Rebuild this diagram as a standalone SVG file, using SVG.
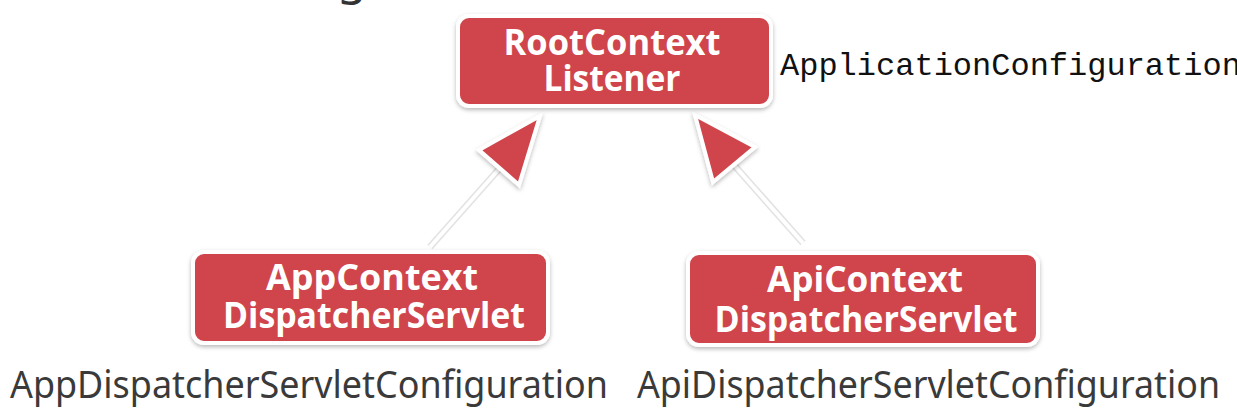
<svg xmlns="http://www.w3.org/2000/svg" width="1237" height="410" viewBox="0 0 1237 410">
  <defs>
    <filter id="sh" x="-10%" y="-20%" width="120%" height="150%">
      <feDropShadow dx="0" dy="2" stdDeviation="2" flood-color="#000" flood-opacity="0.28"/>
    </filter>
    <style>
      .box { fill: #d0454c; stroke: #ffffff; stroke-width: 4; filter: url(#sh); }
      .bt { font-family: "Open Sans", "Noto Sans", sans-serif; font-weight: 700; font-size: 35px; fill: #ffffff; text-anchor: middle; }
      .lbl { font-family: "Noto Sans", "Open Sans", sans-serif; font-size: 38px; fill: #3a3a3a; }
      .mono { font-family: "Liberation Mono", "DejaVu Sans Mono", monospace; font-size: 32px; fill: #111111; }
      .lnbg { stroke: #e2e2e2; stroke-width: 7; stroke-linecap: butt; fill: none; }
      .ln { stroke: #ffffff; stroke-width: 4; stroke-linecap: butt; fill: none; }
      .tri { fill: #d0454c; stroke: #ffffff; stroke-width: 4; stroke-linejoin: miter; filter: url(#sh); }
    </style>
  </defs>
  <rect width="1237" height="410" fill="#ffffff"/>

  <text x="337" y="-6" style="font-family: 'Noto Sans', sans-serif; font-size: 48px; fill: #333333;">g</text>

  <g id="connectors">
    <line class="lnbg" x1="430" y1="247" x2="500" y2="168"/>
    <line class="ln" x1="430" y1="247" x2="500" y2="168"/>
    <polygon class="tri" points="540,116 479,150 519,185"/>
    <line class="lnbg" x1="803" y1="243" x2="734" y2="165"/>
    <line class="ln" x1="803" y1="243" x2="734" y2="165"/>
    <polygon class="tri" points="695,115 755,147 713,182"/>
  </g>

  <g id="root">
    <rect class="box" x="458" y="16" width="313" height="90" rx="11"/>
    <text class="bt" x="612" y="55" textLength="217" lengthAdjust="spacingAndGlyphs">RootContext</text>
    <text class="bt" x="612" y="91" textLength="137" lengthAdjust="spacingAndGlyphs">Listener</text>
  </g>
  <text id="root-label" class="mono" x="780" y="75">ApplicationConfiguration</text>

  <g id="app">
    <rect class="box" x="193" y="252" width="355" height="91" rx="11"/>
    <text class="bt" x="372" y="290" textLength="212" lengthAdjust="spacingAndGlyphs">AppContext</text>
    <text class="bt" x="374" y="328" textLength="302" lengthAdjust="spacingAndGlyphs">DispatcherServlet</text>
  </g>
  <text id="app-label" class="lbl" x="10" y="398" textLength="598" lengthAdjust="spacingAndGlyphs">AppDispatcherServletConfiguration</text>

  <g id="api">
    <rect class="box" x="688" y="253" width="350" height="92" rx="11"/>
    <text class="bt" x="865" y="292" textLength="196" lengthAdjust="spacingAndGlyphs">ApiContext</text>
    <text class="bt" x="866" y="332" textLength="303" lengthAdjust="spacingAndGlyphs">DispatcherServlet</text>
  </g>
  <text id="api-label" class="lbl" x="637" y="398" textLength="583" lengthAdjust="spacingAndGlyphs">ApiDispatcherServletConfiguration</text>
</svg>
